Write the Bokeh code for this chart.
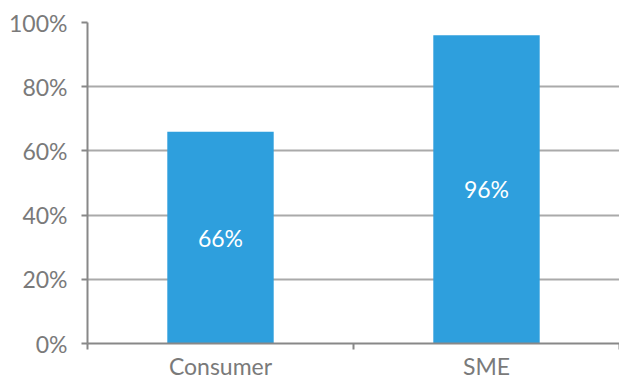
from bokeh.plotting import figure
from bokeh.models import FixedTicker, ColumnDataSource, Range1d
from bokeh.core.properties import value
from bokeh.embed import file_html
from bokeh.resources import INLINE

categories = ["Consumer", "SME"]
values = [66, 96]
value_labels = ["66%", "96%"]
y_ticks = [0, 20, 40, 60, 80, 100]
y_tick_labels = ["0%", "20%", "40%", "60%", "80%", "100%"]

FONT = "Lato"
FS = "23px"
GRAY = "#7a7a7a"
BAR = "#2E9FDD"

xpos = [i + 0.5 for i in range(len(categories))]
src = ColumnDataSource(dict(x=xpos, top=values, mid=[v / 2 for v in values], lab=value_labels))

p = figure(frame_width=532, frame_height=321, output_backend="svg", toolbar_location=None,
           x_range=Range1d(0, len(categories)), y_range=Range1d(0, 100),
           min_border_left=87, min_border_right=0, min_border_top=22, min_border_bottom=37)
p.outline_line_color = None
p.background_fill_color = "white"
p.border_fill_color = "white"

p.vbar(x="x", top="top", width=0.4, bottom=0, source=src, fill_color=BAR, line_color=None)
p.text(x="x", y="mid", text="lab", source=src, text_color="white", text_align="center",
       text_baseline="middle", text_font=value(FONT), text_font_size=FS)

# y axis
p.yaxis.ticker = FixedTicker(ticks=y_ticks)
p.yaxis.major_label_overrides = {t: l for t, l in zip(y_ticks, y_tick_labels)}
p.yaxis.major_label_text_font = FONT
p.yaxis.major_label_text_font_size = FS
p.yaxis.major_label_text_color = GRAY
p.yaxis.axis_line_color = "#888888"
p.yaxis.axis_line_width = 2
p.yaxis.major_tick_line_color = "#888888"
p.yaxis.major_tick_line_width = 2
p.yaxis.major_tick_out = 6
p.yaxis.major_tick_in = 0
p.yaxis.minor_tick_line_color = None
p.yaxis.major_label_standoff = 14

# x axis
p.xaxis.ticker = FixedTicker(ticks=xpos, minor_ticks=[0, 1, 2])
p.xaxis.major_label_overrides = {x: c for x, c in zip(xpos, categories)}
p.xaxis.major_label_text_font = FONT
p.xaxis.major_label_text_font_size = FS
p.xaxis.major_label_text_color = GRAY
p.xaxis.axis_line_color = "#888888"
p.xaxis.axis_line_width = 2
p.xaxis.major_tick_line_color = None
p.xaxis.major_tick_out = 0
p.xaxis.major_tick_in = 0
p.xaxis.minor_tick_line_color = "#888888"
p.xaxis.minor_tick_line_width = 2
p.xaxis.minor_tick_out = 6
p.xaxis.minor_tick_in = 0
p.xaxis.major_label_standoff = 2

p.xgrid.grid_line_color = None
p.ygrid.grid_line_color = "#aaaaaa"
p.ygrid.grid_line_width = 2
p.ygrid.level = "underlay"

open("out.html", "w").write(file_html(p, INLINE))
